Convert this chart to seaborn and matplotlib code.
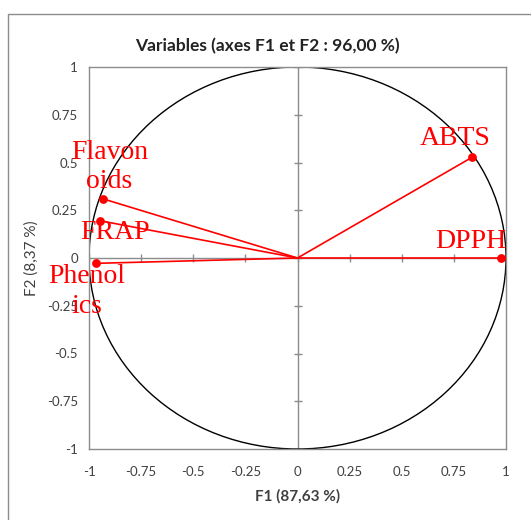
import numpy as np
import pandas as pd
import matplotlib
matplotlib.use('Agg')
import matplotlib.pyplot as plt
import matplotlib.patches as mpatches
import seaborn as sns

# PCA correlation circle data
variables = ['ABTS', 'DPPH', 'Flavonoids', 'FRAP', 'Phenolics']
shown_labels = ['ABTS', 'DPPH', 'Flavon\noids', 'FRAP', 'Phenol\nics']
f1 = [0.837, 0.976, -0.931, -0.947, -0.966]
f2 = [0.527, 0.0, 0.309, 0.195, -0.028]
ticks = [-1, -0.75, -0.5, -0.25, 0, 0.25, 0.5, 0.75, 1]
tick_labels = ['-1', '-0.75', '-0.5', '-0.25', '0', '0.25', '0.5', '0.75', '1']

title = 'Variables (axes F1 et F2 : 96,00 %)'
xlabel = 'F1 (87,63 %)'
ylabel = 'F2 (8,37 %)'

# label offsets in pixels (dx, dy) relative to the point
label_offsets = [(-17, 19), (-30, 17), (6, 32), (15, -12), (-9, -28)]

sns.set_theme(style="white")
plt.rcParams['font.family'] = ['Lato', 'DejaVu Sans']

df = pd.DataFrame({'variable': variables, 'F1': f1, 'F2': f2})

fig = plt.figure(figsize=(5.31, 5.20), dpi=100)
ax = fig.add_axes([89 / 531, 71 / 520, 417 / 531, 382 / 520])

axis_grey = '#8c8c8c'
red = '#ff0000'

# outer chart frame
frame = mpatches.Rectangle((8 / 531, -0.1), 1.2, 1.1 - 14 / 520, transform=fig.transFigure,
                           fill=False, edgecolor='#8c8c8c', linewidth=1.0, clip_on=False)
fig.patches.append(frame)

# centre axes with crossing tick marks
ax.axhline(0, color=axis_grey, linewidth=1.0, zorder=1)
ax.axvline(0, color=axis_grey, linewidth=1.0, zorder=1)
ax.plot(ticks, [0] * len(ticks), linestyle='none', marker='|', markersize=6,
        color=axis_grey, markeredgewidth=1.0, zorder=1)
ax.plot([0] * len(ticks), ticks, linestyle='none', marker='_', markersize=6,
        color=axis_grey, markeredgewidth=1.0, zorder=1)

# unit circle
circle = mpatches.Circle((0, 0), 1, transform=ax.transData, fill=False,
                         edgecolor='black', linewidth=1.0, zorder=2)
ax.add_patch(circle)

# vectors
for x, y in zip(f1, f2):
    ax.plot([0, x], [0, y], color=red, linewidth=1.2, zorder=3)

sns.scatterplot(data=df, x='F1', y='F2', color=red, s=40, edgecolor=red,
                linewidth=0, zorder=4, ax=ax, legend=False)

for x, y, lab, (dx, dy) in zip(f1, f2, shown_labels, label_offsets):
    ax.annotate(lab, (x, y), xytext=(dx, dy), textcoords='offset pixels',
                ha='center', va='center', multialignment='center',
                color=red, fontsize=20, family=['Liberation Serif', 'DejaVu Serif'],
                linespacing=1.25, zorder=5, annotation_clip=False)

ax.set_xlim(-1, 1)
ax.set_ylim(-1, 1)
ax.set_xticks(ticks)
ax.set_xticklabels(tick_labels)
ax.set_yticks(ticks)
ax.set_yticklabels(tick_labels)
ax.tick_params(axis='both', length=0, labelsize=9.5, colors='#404040', pad=12)
ax.tick_params(axis='y', pad=8)
for sp in ax.spines.values():
    sp.set_color(axis_grey)
    sp.set_linewidth(1.0)

ax.set_xlabel(xlabel, fontsize=11, fontweight='bold', color='#404040', labelpad=8)
ax.set_ylabel(ylabel, fontsize=11, color='#404040', labelpad=6)
ax.set_facecolor('white')

fig.text(267 / 531, 1 - 46 / 520, title, ha='center', va='center',
         fontsize=12.5, fontweight='bold', color='#222222')

fig.savefig('out.png', dpi=100)
plt.close(fig)
